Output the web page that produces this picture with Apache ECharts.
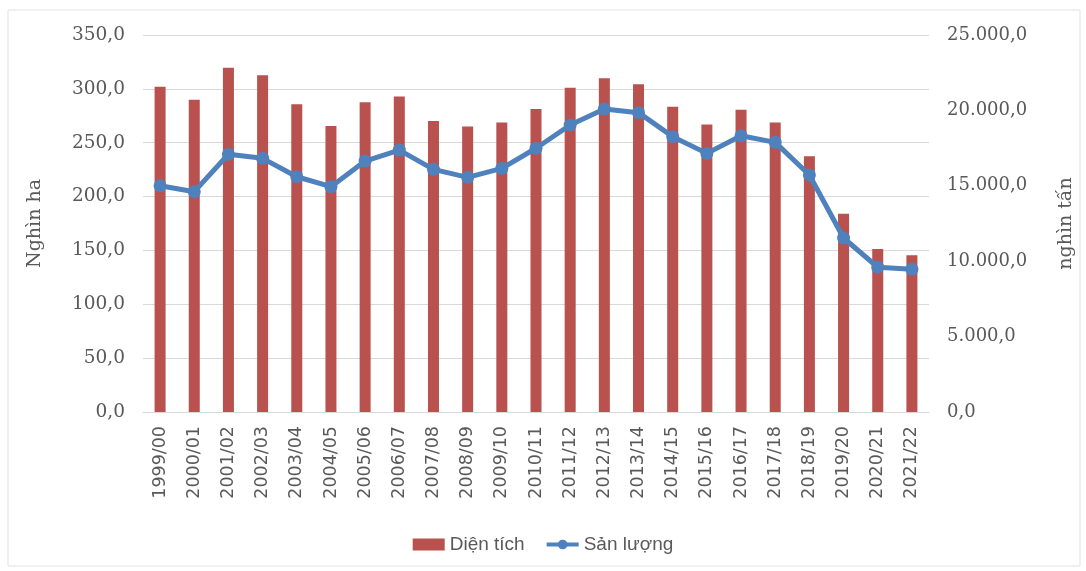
<!DOCTYPE html>
<html><head><meta charset="utf-8">
<script src="https://cdn.jsdelivr.net/npm/echarts@6/dist/echarts.min.js"></script>
<style>html,body{margin:0;padding:0;background:#fff}#c{width:1086px;height:571px}</style>
</head><body><div id="c"></div>
<script>
const categories = ["1999/00","2000/01","2001/02","2002/03","2003/04","2004/05","2005/06","2006/07","2007/08","2008/09","2009/10","2010/11","2011/12","2012/13","2013/14","2014/15","2015/16","2016/17","2017/18","2018/19","2019/20","2020/21","2021/22"];
const dienTich = [302,290,319.5,312.6,285.7,265.5,287.5,292.8,270.2,265,268.7,281.3,301,309.8,304.2,283.5,267,280.7,268.7,237.4,184.1,151.3,145.5];
const sanLuong = [15000,14610,17090,16820,15600,14940,16640,17370,16090,15560,16160,17490,19030,20090,19850,18260,17150,18320,17880,15720,11540,9600,9460];
const leftTicks = {min:0,max:350,interval:50};
const rightTicks = {min:0,max:25000,interval:5000};

function fmt(v){
  const parts = v.toFixed(1).split('.');
  const intPart = parts[0].replace(/\B(?=(\d{3})+(?!\d))/g,'.');
  return intPart + ',' + parts[1];
}
const chart = echarts.init(document.getElementById('c'));
const serif = "'DejaVu Serif', 'Liberation Serif', serif";
chart.setOption({
  animation:false,
  backgroundColor:'#fff',
  graphic:[{type:'rect',shape:{x:8,y:10,width:1072,height:556},style:{fill:'none',stroke:'#e3e3e3',lineWidth:1}}],
  grid:{left:143,right:157,top:35,bottom:159},
  legend:{
    bottom:12, left:'center',
    itemWidth:32,itemHeight:12,itemGap:20,
    lineStyle:{width:4},
    textStyle:{fontFamily:"'Liberation Sans Narrow','Liberation Sans',sans-serif",fontSize:19,color:'#595959'},
    data:[{name:'Diện tích',icon:'rect',itemStyle:{}},{name:'Sản lượng'}]
  },
  xAxis:{
    type:'category',data:categories,
    axisLine:{lineStyle:{color:'#d9d9d9',width:1}},
    axisTick:{show:false},
    axisLabel:{rotate:90,interval:0,margin:14,fontFamily:"'DejaVu Sans',sans-serif",fontSize:17.5,color:'#595959'}
  },
  yAxis:[{
    type:'value',min:leftTicks.min,max:leftTicks.max,interval:leftTicks.interval,
    name:'Nghìn ha',nameLocation:'middle',nameGap:98,
    nameTextStyle:{fontFamily:serif,fontSize:19,color:'#595959'},
    axisLabel:{formatter:fmt,fontFamily:serif,fontSize:18.5,color:'#595959',margin:18},
    splitLine:{lineStyle:{color:'#d9d9d9'}},axisLine:{show:false},axisTick:{show:false}
  },{
    type:'value',min:rightTicks.min,max:rightTicks.max,interval:rightTicks.interval,
    name:'nghìn tấn',nameLocation:'middle',nameGap:128,nameRotate:90,
    nameTextStyle:{fontFamily:serif,fontSize:19,color:'#595959'},
    axisLabel:{formatter:fmt,fontFamily:serif,fontSize:18,color:'#595959',margin:18},
    splitLine:{show:false},axisLine:{show:false},axisTick:{show:false}
  }],
  series:[{
    name:'Diện tích',type:'bar',data:dienTich,yAxisIndex:0,barWidth:11,
    itemStyle:{color:'#B9514E'}
  },{
    name:'Sản lượng',type:'line',data:sanLuong,yAxisIndex:1,
    symbol:'circle',symbolSize:13,
    lineStyle:{color:'#4F81BD',width:5},
    itemStyle:{color:'#4F81BD'}
  }]
});
</script></body></html>
